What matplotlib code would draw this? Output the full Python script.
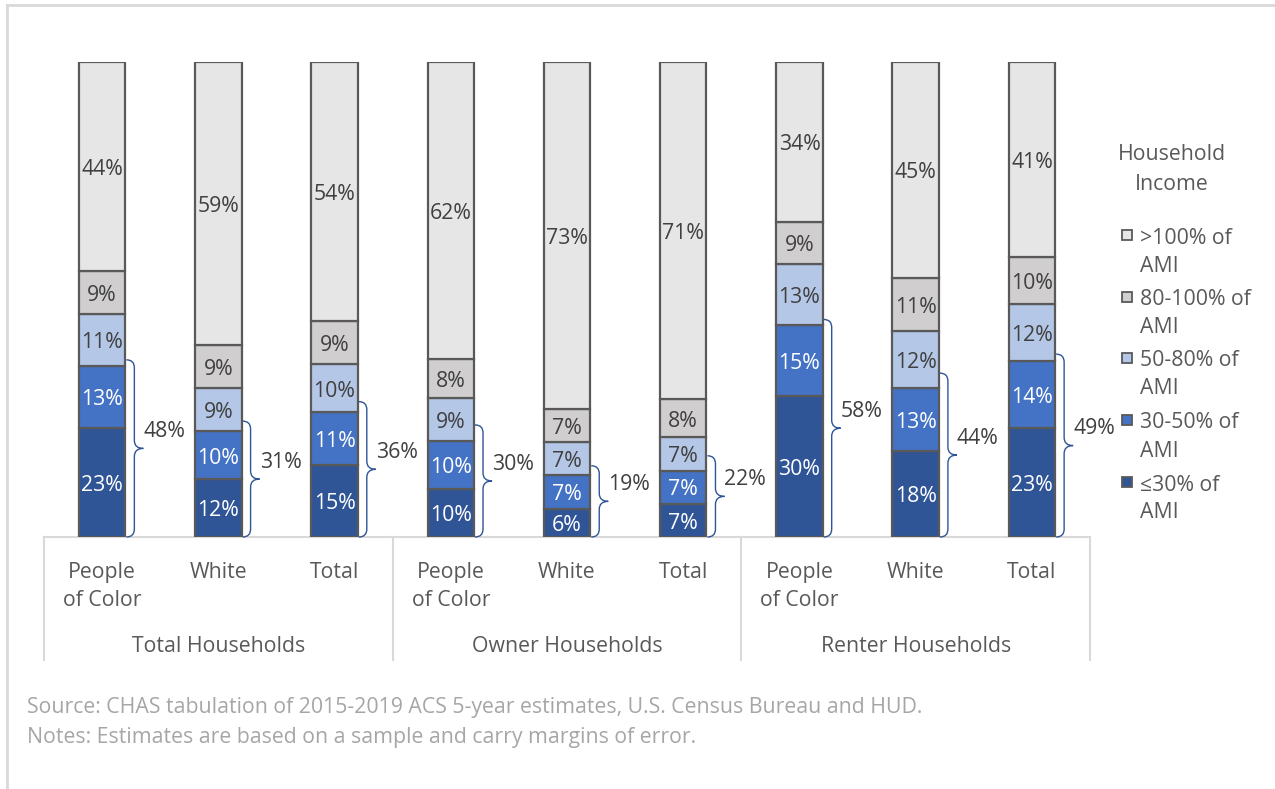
import numpy as np
import matplotlib.pyplot as plt
from matplotlib.patches import Rectangle, PathPatch
from matplotlib.path import Path
from matplotlib.lines import Line2D

plt.rcParams['font.family'] = ['Open Sans', 'DejaVu Sans']

# data
groups = ["Total Households", "Owner Households", "Renter Households"]
bar_names = ["People\nof Color", "White", "Total"] * 3
seg_names = ["\u226430% of\nAMI", "30-50% of\nAMI", "50-80% of\nAMI", "80-100% of\nAMI", ">100% of\nAMI"]
ami_30 = [23, 12, 15, 10, 6, 7, 30, 18, 23]
ami_50 = [13, 10, 11, 10, 7, 7, 15, 13, 14]
ami_80 = [11, 9, 10, 9, 7, 7, 13, 12, 12]
ami_100 = [9, 9, 9, 8, 7, 8, 9, 11, 10]
ami_over = [44, 59, 54, 62, 73, 71, 34, 45, 41]
brace_labels = ["48%", "31%", "36%", "30%", "19%", "22%", "58%", "44%", "49%"]
brace_tops = [37.3, 24.4, 28.5, 23.6, 15.0, 17.1, 45.8, 34.5, 38.5]

colors = ["#2F5597", "#4472C4", "#B4C7E7", "#D0CECE", "#E7E6E6"]
txt_colors = ["white", "white", "#404040", "#404040", "#404040"]
edge = "#595959"
gridc = "#D9D9D9"
fs = 15.3
W, H = 1275, 789

fig = plt.figure(figsize=(W / 100, H / 100), dpi=100)
ax = fig.add_axes([44 / W, 1 - 537 / H, (1090 - 44) / W, (537 - 62) / H])
ax.set_xlim(-0.5, 8.5)
ax.set_ylim(0, 100)
ax.axis("off")

series = [ami_30, ami_50, ami_80, ami_100, ami_over]
x = np.arange(len(ami_30))
tot = np.sum(series, axis=0)
bottom = np.zeros(len(x))
for k, s in enumerate(series):
    h = np.array(s) / tot * 100
    ax.bar(x, h, 0.4, bottom=bottom, color=colors[k], edgecolor=edge, linewidth=1.6, zorder=3)
    for i in range(len(x)):
        ax.annotate(f"{s[i]}%", xy=(x[i], bottom[i] + h[i] / 2), xytext=(0, -2),
                    textcoords="offset points", ha="center", va="center",
                    color=txt_colors[k], fontsize=fs, zorder=4)
    bottom += h

# braces
ux = 1 / 116.2   # data units per pixel (x)
uy = 1 / 4.75    # data units per pixel (y)
for i in range(len(x)):
    x0 = x[i] + 0.2 + 1 * ux
    xv = x[i] + 0.2 + 9 * ux
    xt = x[i] + 0.2 + 18 * ux
    top = brace_tops[i]
    bot = 0
    mid = (top + bot) / 2
    r = 8 * uy
    verts = [(x0, top), (xv, top), (xv, top - r),
             (xv, mid + r), (xv, mid), (xt, mid),
             (xv, mid), (xv, mid - r),
             (xv, bot + r), (xv, bot), (x0, bot)]
    codes = [Path.MOVETO, Path.CURVE3, Path.CURVE3,
             Path.LINETO, Path.CURVE3, Path.CURVE3,
             Path.CURVE3, Path.CURVE3,
             Path.LINETO, Path.CURVE3, Path.CURVE3]
    ax.add_patch(PathPatch(Path(verts, codes), facecolor="none", edgecolor="#2F5597",
                           lw=1.0, zorder=2, clip_on=False))
    ax.annotate(brace_labels[i], xy=(xt, mid), xytext=(0, 12), textcoords="offset points",
                ha="left", va="center", fontsize=fs, color="#404040", annotation_clip=False)

# category axis
ax.plot([-0.5, 8.5], [0, 0], color=gridc, lw=1.5, zorder=1, clip_on=False)
trans = ax.get_xaxis_transform()
for xd in [-0.5, 2.5, 5.5, 8.5]:
    ax.plot([xd, xd], [0, -(660 - 537) / 475], color=gridc, lw=1.5, transform=trans, clip_on=False)
for i in range(len(x)):
    ax.text(x[i], -(562 - 537) / 475, bar_names[i], transform=trans, ha="center", va="top",
            fontsize=fs, color="#595959", linespacing=1.45)
for g in range(3):
    ax.text(g * 3 + 1, -(646 - 537) / 475, groups[g], transform=trans, ha="center", va="center",
            fontsize=fs, color="#595959")

# legend
fig.text(1172 / W, 1 - 154 / H, "Household", ha="center", va="center", fontsize=fs, color="#595959")
fig.text(1172 / W, 1 - 184 / H, "Income", ha="center", va="center", fontsize=fs, color="#595959")
leg_y = [482, 420, 358, 297, 235]
for k in range(5):
    yk = leg_y[k]
    fig.add_artist(Rectangle(((1122) / W, 1 - (yk + 5) / H), 10 / W, 10 / H,
                             facecolor=colors[k], edgecolor=edge, lw=1.3, transform=fig.transFigure))
    l1, l2 = seg_names[k].split("\n")
    fig.text(1140 / W, 1 - (yk + 3) / H, l1, ha="left", va="center", fontsize=fs, color="#595959")
    fig.text(1140 / W, 1 - (yk + 31) / H, l2, ha="left", va="center", fontsize=fs, color="#595959")

# notes
fig.text(27 / W, 1 - 708 / H, "Source: CHAS tabulation of 2015-2019 ACS 5-year estimates, U.S. Census Bureau and HUD.",
         ha="left", va="center", fontsize=fs, color="#A6A6A6")
fig.text(27 / W, 1 - 738 / H, "Notes: Estimates are based on a sample and carry margins of error.",
         ha="left", va="center", fontsize=fs, color="#A6A6A6")

# frame
fig.add_artist(Line2D([7 / W, 1], [1 - 5 / H, 1 - 5 / H], color=gridc, lw=2, transform=fig.transFigure))
fig.add_artist(Line2D([7 / W, 7 / W], [0, 1 - 5 / H], color=gridc, lw=2, transform=fig.transFigure))

fig.savefig("out.png", dpi=100, facecolor="white")
